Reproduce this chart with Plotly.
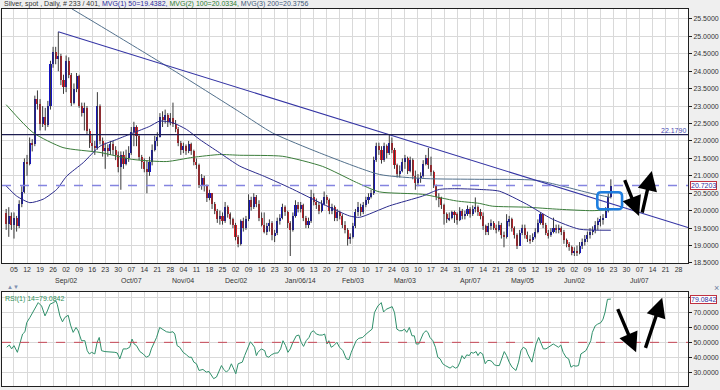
import plotly.graph_objects as go
from datetime import date, timedelta

# ---------------- data ----------------
# bar 0 = Wed 31 Jul 2013, one bar per weekday, last bar = Fri 20 Jun 2014
first_open = 19.92
closes = [
    19.62, 19.85, 19.60,
    19.78, 19.55, 20.20, 20.55, 21.40,
    21.35, 21.95, 21.90, 23.20, 23.05,
    22.50, 22.70, 22.45, 23.00, 24.20,
    24.55, 24.35, 24.45, 23.75, 23.55,
    24.30, 23.90, 23.10, 23.50, 23.85,
    23.00, 22.80, 22.95, 22.30, 21.95,
    21.85, 21.80, 23.00, 22.00, 21.70,
    21.80, 21.70, 21.90, 21.75, 21.60,
    21.25, 21.60, 21.35, 21.50, 21.65,
    22.25, 22.40, 22.15, 21.55, 21.40,
    21.20, 21.10, 21.40, 21.75, 22.00,
    22.10, 22.70, 22.60, 22.75, 22.55,
    22.65, 22.50, 22.35, 21.95, 21.75,
    21.85, 21.70, 21.90, 21.70, 21.40,
    21.30, 20.75, 20.95, 20.70, 20.35,
    20.50, 20.20, 20.00, 19.75, 19.85,
    19.70, 20.10, 19.90, 19.75, 19.60,
    19.25, 19.05, 19.70, 19.50, 19.75,
    20.30, 20.10, 20.40, 20.20, 19.80,
    19.60, 19.40, 19.55, 19.65, 19.30,
    19.35, 19.70, 19.80, 20.10, 19.95,
    19.65, 19.45, 19.85, 20.15, 20.05,
    20.15, 19.80, 19.60, 19.70, 20.40,
    20.25, 20.15, 20.00, 20.20, 20.40,
    20.30, 20.00, 20.10, 19.80, 19.95,
    19.85, 19.60, 19.45, 19.20, 19.25,
    19.55, 19.95, 20.10, 19.95, 20.15,
    20.30, 20.40, 20.50, 21.45, 21.85,
    21.75, 21.45, 21.85, 21.65, 21.95,
    21.75, 21.30, 21.05, 21.15, 21.40,
    21.50, 21.15, 21.45, 21.00, 20.80,
    20.95, 21.00, 21.35, 21.50, 21.30,
    21.10, 20.75, 20.40, 20.35, 20.15,
    19.90, 19.75, 19.80, 19.95, 19.90,
    19.72, 20.00, 19.85, 19.90, 20.05,
    19.90, 20.05, 20.10, 19.95, 19.85,
    19.55, 19.40, 19.55, 19.65, 19.50,
    19.45, 19.60, 19.30, 19.25, 19.70,
    19.75, 19.50, 19.30, 19.00, 19.35,
    19.50, 19.30, 19.20, 19.15, 19.25,
    19.40, 19.65, 19.90, 19.60, 19.35,
    19.30, 19.40, 19.50, 19.45, 19.50,
    19.40, 19.15, 19.05, 18.95, 18.80,
    18.85, 18.80, 19.00, 19.10, 19.18,
    19.30, 19.40, 19.45, 19.60, 19.70,
    19.75, 19.80, 20.00, 20.40, 20.7203,
]
highs = [
    20.05, 20.10, 19.95,
    19.95, 19.85, 20.30, 20.70, 21.50,
    21.60, 22.10, 22.05, 23.30, 23.45,
    23.20, 23.00, 22.95, 23.15, 24.30,
    24.70, 24.70, 25.13, 24.50, 23.90,
    24.45, 24.40, 23.95, 23.65, 23.95,
    23.90, 23.10, 23.10, 23.00, 22.35,
    22.20, 22.00, 23.40, 23.05, 22.10,
    21.95, 21.90, 22.00, 22.00, 21.85,
    21.70, 21.70, 21.70, 21.75, 21.85,
    22.40, 22.55, 22.45, 22.20, 21.60,
    21.50, 21.45, 21.55, 21.90, 22.15,
    22.25, 22.80, 22.85, 22.90, 22.80,
    22.80, 23.10, 22.60, 22.40, 22.00,
    21.95, 21.90, 22.00, 21.95, 21.75,
    21.50, 21.35, 21.05, 21.00, 20.75,
    20.60, 20.50, 20.25, 20.05, 20.00,
    19.95, 20.25, 20.15, 19.95, 19.80,
    19.65, 19.30, 19.75, 19.80, 19.85,
    20.47, 20.40, 20.50, 20.45, 20.30,
    19.95, 19.95, 19.65, 19.75, 19.70,
    19.45, 19.80, 19.90, 20.20, 20.15,
    20.00, 19.70, 19.95, 20.30, 20.25,
    20.25, 20.20, 19.85, 19.80, 20.60,
    20.50, 20.35, 20.25, 20.30, 20.55,
    20.45, 20.35, 20.20, 20.15, 20.05,
    20.00, 19.90, 19.70, 19.50, 19.35,
    19.65, 20.05, 20.25, 20.20, 20.25,
    20.40, 20.50, 20.60, 21.55, 21.95,
    21.95, 21.85, 21.95, 21.90, 22.179,
    22.10, 21.80, 21.35, 21.30, 21.50,
    21.60, 21.55, 21.55, 21.50, 21.15,
    21.05, 21.10, 21.45, 21.60, 21.80,
    21.55, 21.15, 20.75, 20.50, 20.40,
    20.20, 19.95, 19.95, 20.00, 20.00,
    19.95, 20.10, 20.05, 20.00, 20.15,
    20.10, 20.15, 20.38, 20.15, 20.05,
    19.95, 19.60, 19.65, 19.75, 19.70,
    19.60, 19.70, 19.65, 19.40, 19.90,
    19.85, 19.80, 19.55, 19.35, 19.45,
    19.60, 19.60, 19.40, 19.30, 19.35,
    19.50, 19.75, 19.95, 19.90, 19.65,
    19.45, 19.50, 19.80, 19.60, 19.60,
    19.55, 19.45, 19.20, 19.10, 19.00,
    18.95, 19.00, 19.10, 19.20, 19.30,
    19.40, 19.50, 19.55, 19.70, 19.80,
    19.85, 19.90, 20.10, 20.50, 20.90,
]
lows = [
    19.45, 19.25, 19.45,
    19.20, 19.40, 19.50, 20.10, 20.50,
    21.00, 21.30, 21.70, 21.85, 22.90,
    22.30, 22.40, 22.30, 22.40, 22.90,
    24.10, 24.20, 24.00, 23.60, 23.35,
    23.40, 23.80, 23.00, 23.05, 23.40,
    22.95, 22.70, 22.30, 22.20, 21.80,
    21.70, 21.60, 21.75, 21.90, 21.55,
    21.20, 21.55, 21.60, 21.60, 21.45,
    21.10, 20.60, 21.20, 21.30, 21.40,
    21.60, 21.85, 21.85, 21.45, 21.20,
    21.10, 20.50, 21.00, 21.30, 21.70,
    21.85, 22.10, 22.40, 22.50, 22.40,
    22.45, 22.40, 22.25, 21.85, 21.60,
    21.65, 21.60, 21.65, 21.60, 21.30,
    21.20, 20.65, 20.60, 20.55, 20.25,
    20.30, 20.05, 19.90, 19.65, 19.60,
    19.60, 19.65, 19.80, 19.60, 19.50,
    19.15, 18.95, 19.00, 19.40, 19.45,
    19.70, 20.00, 20.05, 20.10, 19.70,
    19.55, 19.35, 19.30, 19.40, 19.15,
    19.10, 19.30, 19.60, 19.75, 19.85,
    19.50, 18.70, 19.40, 19.80, 19.95,
    19.95, 19.70, 19.50, 19.50, 19.65,
    20.15, 20.05, 19.90, 19.95, 20.15,
    20.20, 19.90, 19.90, 19.70, 19.70,
    19.75, 19.50, 19.35, 19.00, 19.05,
    19.20, 19.50, 19.85, 19.85, 19.90,
    20.10, 20.20, 20.35, 20.45, 21.40,
    21.60, 21.35, 21.40, 21.50, 21.60,
    21.65, 21.20, 20.95, 20.95, 21.10,
    21.20, 21.05, 21.10, 20.90, 20.60,
    20.70, 20.80, 20.95, 21.30, 21.20,
    21.00, 20.65, 20.30, 20.10, 20.05,
    19.60, 19.65, 19.70, 19.75, 19.65,
    19.60, 19.70, 19.75, 19.75, 19.85,
    19.80, 19.85, 19.95, 19.85, 19.75,
    19.45, 19.30, 19.30, 19.45, 19.45,
    19.35, 19.40, 19.20, 18.95, 19.20,
    19.55, 19.40, 19.20, 18.90, 19.00,
    19.30, 19.20, 19.10, 19.05, 19.10,
    19.20, 19.35, 19.60, 19.50, 19.30,
    19.20, 19.25, 19.35, 19.35, 19.35,
    19.30, 19.05, 18.95, 18.85, 18.72,
    18.70, 18.70, 18.75, 18.90, 19.00,
    19.10, 19.20, 19.30, 19.35, 19.45,
    19.55, 19.60, 19.80, 19.95, 20.35,
]

# moving averages (bar position, value)
ma50_x = [0, 4.0, 9.1, 14.2, 19.4, 23.2, 29.6, 36.0, 42.3, 48.7, 55.1, 58.9, 64.0, 69.2, 74.3, 81.9,
          89.6, 99.2, 108.7, 121.5, 131.7, 135.6, 147.1, 159.8, 166.2, 172.6, 181.5, 189.2, 199.6,
          209.5, 219.9, 232.0]
ma50_v = [20.71, 20.42, 20.23, 20.33, 20.61, 20.99, 21.38, 21.85, 22.04, 22.23, 22.42, 22.57, 22.52,
          22.33, 22.04, 21.66, 21.28, 20.98, 20.66, 20.19, 19.85, 19.81, 20.14, 20.42, 20.61, 20.63,
          20.61, 20.56, 20.19, 19.76, 19.47, 19.44]
ma100_x = [0, 10.3, 21.8, 36.0, 48.6, 61.6, 71.6, 81.9, 89.6, 106.1, 121.4, 134.4, 143.2, 159.7,
           172.7, 181.5, 186.5, 199.6, 212.2, 224.8, 232.0]
ma100_v = [23.04, 22.24, 21.81, 21.67, 21.47, 21.41, 21.53, 21.61, 21.59, 21.56, 21.27, 20.81, 20.54,
           20.47, 20.28, 20.21, 20.13, 20.10, 20.04, 20.00, 20.03]
ma200_x = [25.2, 38.6, 62.8, 89.6, 102.2, 120.2, 143.2, 161.1, 181.5, 203.4, 224.8, 232.0]
ma200_v = [25.79, 25.19, 24.09, 22.83, 22.23, 21.66, 21.04, 20.92, 20.90, 20.87, 20.49, 20.38]

# RSI(14) (bar position, value)
rsi_x = [0.2, 1.2, 2.1, 3.0, 4.3, 5.3, 6.3, 7.2, 7.9, 9.1, 10.2, 11.4, 12.3, 13.6, 14.9, 15.8, 16.8,
         18.1, 19.1, 19.6, 20.6, 21.6, 22.5, 23.8, 24.7, 25.7, 26.8, 27.6, 28.9, 30.2, 31.1, 31.9,
         32.8, 34.0, 34.9, 35.7, 36.6, 37.9, 39.8, 41.7, 42.6, 43.6, 44.9, 46.2, 47.4, 48.3, 49.1,
         50.0, 51.3, 52.6, 53.8, 54.9, 55.7, 56.6, 57.7, 58.9, 60.2, 61.5, 62.8, 64.0, 64.7, 65.6,
         66.6, 67.9, 69.2, 70.2, 71.1, 72.0, 73.0, 74.0, 75.5, 76.8, 77.8, 78.7, 79.6, 80.7, 81.9,
         82.6, 83.5, 84.5, 85.5, 86.4, 87.0, 88.1, 89.0, 89.8, 90.6, 91.5, 92.8, 93.7, 94.4, 95.3,
         96.0, 96.6, 97.9, 99.2, 99.8, 100.8, 101.7, 103.0, 104.3, 105.3, 106.2, 107.2, 108.1, 109.0,
         110.0, 111.3, 112.3, 113.2, 114.1, 115.1, 116.2, 117.0, 117.9, 119.0, 120.2, 121.3, 122.2,
         123.1, 123.8, 124.7, 125.7, 126.9, 127.9, 129.2, 130.5, 131.5, 132.4, 133.3, 134.3, 135.3,
         136.8, 138.1, 139.4, 140.4, 141.3, 142.6, 143.9, 144.8, 145.8, 147.1, 148.1, 149.0, 149.9,
         150.9, 151.9, 152.8, 153.7, 154.7, 155.7, 156.6, 157.3, 158.3, 159.2, 160.1, 161.1, 161.8,
         162.6, 163.7, 164.7, 165.6, 166.5, 167.5, 168.5, 169.4, 170.3, 171.3, 172.4, 173.2, 174.1,
         174.9, 175.8, 176.7, 177.7, 178.4, 179.2, 180.3, 181.0, 181.8, 182.8, 183.8, 184.7, 185.6,
         186.4, 187.3, 188.2, 189.2, 190.2, 191.1, 192.0, 193.0, 194.1, 195.0, 195.6, 196.6, 197.5,
         198.4, 199.4, 200.1, 201.0, 201.7, 202.6, 203.3, 204.3, 205.2, 206.1, 207.1, 208.1, 209.0,
         209.9, 210.9, 211.9, 212.8, 213.7, 214.8, 215.8, 216.7, 217.6, 218.6, 219.6, 220.5, 221.4,
         222.4, 223.4, 224.3, 224.9, 226.0, 226.9, 228.2, 229.0, 229.8, 230.7, 232.0]
rsi_v = [46.7, 48.2, 45.6, 47.8, 43.3, 50.0, 55.6, 57.1, 63.3, 66.7, 70.0, 74.4, 76.7, 74.4, 67.8, 71.1,
         75.6, 76.7, 77.8, 75.6, 67.8, 63.8, 66.7, 68.2, 61.6, 56.7, 60.0, 57.8, 51.1, 51.1, 44.4, 42.2,
         43.3, 42.2, 50.0, 53.3, 44.4, 43.8, 43.8, 43.3, 42.9, 38.9, 45.6, 45.6, 46.7, 52.2, 48.9,
         47.8, 43.8, 42.2, 40.0, 41.1, 45.6, 48.9, 53.3, 60.0, 58.4, 57.1, 56.7, 57.1, 55.6, 47.8,
         46.7, 43.3, 41.6, 40.0, 40.0, 36.7, 35.6, 31.1, 31.8, 30.0, 30.4, 27.8, 25.6, 26.7, 31.1,
         34.4, 31.8, 30.0, 31.8, 35.6, 33.3, 28.9, 35.6, 36.0, 36.7, 41.1, 46.7, 50.4, 48.9, 46.7,
         41.1, 43.3, 45.6, 44.4, 40.7, 40.0, 41.6, 42.7, 42.9, 45.6, 51.1, 47.8, 43.3, 45.6,
         50.0, 54.4, 54.9, 50.0, 47.3, 51.1, 53.3, 56.7, 57.8, 55.6, 54.9, 54.9, 55.6,
         48.9, 51.1, 46.7, 47.8, 50.0, 46.7, 44.4, 38.9, 38.4, 43.3, 46.7, 51.1, 52.7,
         53.3, 55.6, 57.8, 58.9, 70.0, 74.4, 76.7, 70.4, 72.2, 73.3, 74.0, 70.0, 58.9,
         57.8, 57.8, 58.9, 56.7, 60.0, 54.4, 54.4, 48.9, 48.9, 53.3, 56.2, 57.8, 56.7,
         53.3, 51.1, 46.7, 40.0, 38.9, 35.6, 34.4, 33.3, 32.7, 34.0, 32.7, 33.3, 36.7,
         41.1, 38.9, 41.6, 41.1, 43.3, 42.7, 43.8, 41.1, 43.3, 42.2, 35.6, 37.8, 37.8,
         37.1, 34.9, 34.4, 34.4, 40.0, 43.8, 41.1, 36.7, 33.3, 32.2, 31.1, 36.7, 44.4,
         46.7, 45.6, 42.2, 38.9, 36.7, 43.8, 48.9, 53.3, 50.0, 45.6, 45.6, 46.7, 47.8,
         48.9, 47.8, 46.7, 48.2, 43.3, 40.0, 38.9, 33.3, 34.4, 34.0, 34.4, 42.2, 43.3,
         44.4, 47.8, 51.1, 56.7, 61.1, 62.2, 63.3, 65.6, 70.4, 78.9, 79.0842]

title_parts = ["Silver, spot , Daily, # 233 / 401, ", "MVG(1) 50=19.4382, ",
               "MVG(2) 100=20.0334, ", "MVG(3) 200=20.3756"]
rsi_label = "RSI(1) 14=79.0842"
resistance_level = 22.179
first_week = date(2013, 8, 5)
n_weeks = 52
rsi_ticks = [30, 40, 50, 60, 70, 80]

for name, arr in (("highs", highs), ("lows", lows)):
    if len(arr) != len(closes):
        raise ValueError(f"{name} {len(arr)} != closes {len(closes)}")
if len(rsi_x) != len(rsi_v):
    raise ValueError(f"rsi {len(rsi_x)} vs {len(rsi_v)}")

# ---------------- styling ----------------
FONT = "Liberation Sans, Arial, sans-serif"
BLUE, RED, WICK = "#1414c4", "#e01e28", "#3a3a3a"
GRID = "#d9d9d9"
FRAME = "#202020"
C50, C100, C200 = "#2a2a8c", "#3b7d3b", "#52708c"
TREND = "#3434a4"
FS = 7

n = len(closes)
idx = list(range(n))
opens = [first_open] + closes[:-1]   # spot bars open at the previous close

body_base, body_h, body_c = [], [], []
wx, wy = [], []
for i, (o, h, l, c) in enumerate(zip(opens, highs, lows, closes)):
    lo, hi = min(o, c), max(o, c)
    body_base.append(lo)
    body_h.append(max(hi - lo, 0.025))
    body_c.append(BLUE if c >= o else RED)
    wx += [i, i, None]
    wy += [min(l, lo), max(h, hi), None]

fig = go.Figure()
fig.add_trace(go.Scatter(x=wx, y=wy, mode="lines", line=dict(color=WICK, width=1),
                         hoverinfo="skip", xaxis="x", yaxis="y"))
fig.add_trace(go.Bar(x=idx, y=body_h, base=body_base, width=0.8,
                     marker=dict(color=body_c, line=dict(width=0)), xaxis="x", yaxis="y"))
for xs, vs, col in ((ma200_x, ma200_v, C200), (ma100_x, ma100_v, C100), (ma50_x, ma50_v, C50)):
    fig.add_trace(go.Scatter(x=xs, y=vs, mode="lines", line=dict(color=col, width=1, shape="spline",
                                                                 smoothing=0.6),
                             hoverinfo="skip", xaxis="x", yaxis="y"))

# trend line through the two swing highs, extended to the right edge
x_lo, x_hi = -1.6, 261.6
i_peak = max(range(60), key=lambda k: highs[k])
i_second = 147
slope = (highs[i_second] - highs[i_peak]) / (i_second - i_peak)
fig.add_trace(go.Scatter(x=[i_peak, x_hi], y=[highs[i_peak], highs[i_peak] + slope * (x_hi - i_peak)],
                         mode="lines", line=dict(color=TREND, width=1.1), hoverinfo="skip",
                         xaxis="x", yaxis="y"))

fig.add_trace(go.Scatter(x=rsi_x, y=rsi_v, mode="lines", line=dict(color="#2f8f6a", width=1),
                         hoverinfo="skip", xaxis="x2", yaxis="y2"))

# ---------------- axes ----------------
week_idx, day_txt, month_annots = [], [], []
for k in range(n_weeks):
    d = first_week + timedelta(weeks=k)
    pos = 3 + 5 * k
    week_idx.append(pos)
    day_txt.append(f"{d.day:02d}")
    if k > 0 and d.day <= 7:
        lab = f"{d.strftime('%b')}/{d.day:02d}" + (f"/{d.year % 100}" if d.month == 1 else "")
        month_annots.append((pos, lab))

tickfont = dict(family=FONT, size=FS, color="#333333")
common_x = dict(range=[x_lo, x_hi], tickvals=week_idx, showgrid=True, gridcolor=GRID, gridwidth=1,
                zeroline=False, showline=True, linecolor=FRAME, linewidth=1, mirror=True, ticks="")
common_y = dict(side="right", showgrid=True, gridcolor=GRID, gridwidth=1, zeroline=False,
                showline=True, linecolor=FRAME, linewidth=1, mirror=True, ticks="outside",
                ticklen=3, tickcolor=FRAME, tickfont=tickfont)

MAIN_BOTTOM = (389 - 265) / 380
RSI_TOP = (389 - 294) / 380
fig.update_layout(
    width=720, height=390, margin=dict(l=2, r=31, t=9, b=1),
    paper_bgcolor="#efefef", plot_bgcolor="white", showlegend=False, bargap=0,
    font=dict(family=FONT, size=FS, color="#333333"),
    xaxis=dict(domain=[0, 1], anchor="y", ticktext=day_txt, tickfont=tickfont, **common_x),
    yaxis=dict(domain=[MAIN_BOTTOM, 1], anchor="x", range=[18.5, 25.785], tick0=18.5, dtick=0.5,
               tickformat=".4f", **common_y),
    xaxis2=dict(domain=[0, 1], anchor="y2", matches="x", showticklabels=False, **common_x),
    # the top gridline (80) has its label hidden behind the current-value box
    yaxis2=dict(domain=[0, RSI_TOP], anchor="x2", range=[20.67, 84], tickvals=rsi_ticks,
                ticktext=[f"{v:.4f}" if v < 80 else "" for v in rsi_ticks], **common_y),
)

shapes = []
shapes.append(dict(type="line", xref="x domain", yref="y", x0=0, x1=1, y0=resistance_level,
                   y1=resistance_level, line=dict(color="#1c1c50", width=1.2)))
shapes.append(dict(type="line", xref="x domain", yref="y", x0=0, x1=1, y0=closes[-1], y1=closes[-1],
                   line=dict(color="#8484e0", width=1.6, dash="dash")))
shapes.append(dict(type="line", xref="x domain", yref="y2", x0=0, x1=1, y0=50, y1=50,
                   line=dict(color="#c84858", width=1, dash="dash")))
# rounded highlight box around the breakout
bx0, bx1, by0, by1 = 226.8, 236.3, 20.04, 20.53
rx, ry = 1.5, 0.11
path = (f"M {bx0+rx},{by1} L {bx1-rx},{by1} Q {bx1},{by1} {bx1},{by1-ry} L {bx1},{by0+ry} "
        f"Q {bx1},{by0} {bx1-rx},{by0} L {bx0+rx},{by0} Q {bx0},{by0} {bx0},{by0+ry} "
        f"L {bx0},{by1-ry} Q {bx0},{by1} {bx0+rx},{by1} Z")
shapes.append(dict(type="path", xref="x", yref="y", path=path, line=dict(color="#1f7fe0", width=2.6)))
fig.update_layout(shapes=shapes)

ann = []
title_cols = ["#333333", "#2a2a9c", "#2e7d32", "#3e5a7a"]
title_html = "".join(f"<span style='color:{c}'>{t}</span>" for t, c in zip(title_parts, title_cols))
ann.append(dict(xref="paper", yref="paper", x=0, y=1, xanchor="left", yanchor="bottom", yshift=-1,
                text=title_html, showarrow=False, font=dict(family=FONT, size=FS)))
for pos, lab in month_annots:
    ann.append(dict(xref="x", yref="paper", x=pos, y=(389 - 283) / 380, text=lab, showarrow=False,
                    xanchor="center", yanchor="middle", font=dict(family=FONT, size=FS, color="#333333")))
ann.append(dict(xref="x domain", yref="y", x=1, y=resistance_level, xanchor="right", yanchor="bottom",
                text=f"{resistance_level:.4f}", showarrow=False, yshift=-1,
                font=dict(family=FONT, size=FS, color="#4a4ab0")))
ann.append(dict(xref="paper", yref="y", x=1, y=closes[-1], xanchor="left", yanchor="middle", xshift=2,
                text=f"{closes[-1]:.4f}", showarrow=False, bgcolor="white", bordercolor="#c03040",
                borderwidth=1, borderpad=0, font=dict(family=FONT, size=FS, color="#3030a0")))
ann.append(dict(xref="paper", yref="y2", x=1, y=rsi_v[-1], xanchor="left", yanchor="middle", xshift=2,
                text=rsi_label.split("=")[1], showarrow=False, bgcolor="white", bordercolor="#c03040",
                borderwidth=1, borderpad=0, font=dict(family=FONT, size=FS, color="#3030a0")))
ann.append(dict(xref="x domain", yref="y2 domain", x=0, y=1, xanchor="left", yanchor="top",
                text=rsi_label, showarrow=False, xshift=1, yshift=-1,
                font=dict(family=FONT, size=FS, color="#2f8f5a")))
# UI glyphs of the charting window
ann.append(dict(xref="paper", yref="paper", x=0, y=(389 - 289) / 380, xanchor="left", yanchor="middle",
                xshift=3, text="▲▼", showarrow=False, font=dict(family=FONT, size=6, color="#8090b0")))
ann.append(dict(xref="paper", yref="paper", x=1, y=(389 - 290) / 380, xanchor="center", yanchor="middle",
                xshift=28, text="×", showarrow=False, font=dict(family=FONT, size=9, color="#7080a0")))

# hand-drawn arrows: (tail x, tail y, head x, head y, axis suffix)
arrows = [(237.1, 20.92, 242.8, 19.85, ""), (243.9, 19.90, 247.7, 21.14, ""),
          (234.4, 73.3, 241.7, 43.3, "2"), (245.1, 45.3, 251.7, 80.0, "2")]
for tx, ty, hx, hy, s in arrows:
    ann.append(dict(xref="x" + s, yref="y" + s, axref="x" + s, ayref="y" + s, x=hx, y=hy, ax=tx, ay=ty,
                    text="", showarrow=True, arrowhead=2, arrowsize=1.15, arrowwidth=3.4,
                    arrowcolor="#000000"))
fig.update_layout(annotations=ann)

# the page is shown in a window exactly the figure's size: drop the default body margin
fig.write_html("out.html", config={"displayModeBar": False},
               post_script="document.body.style.margin='0';document.body.style.overflow='hidden';")
